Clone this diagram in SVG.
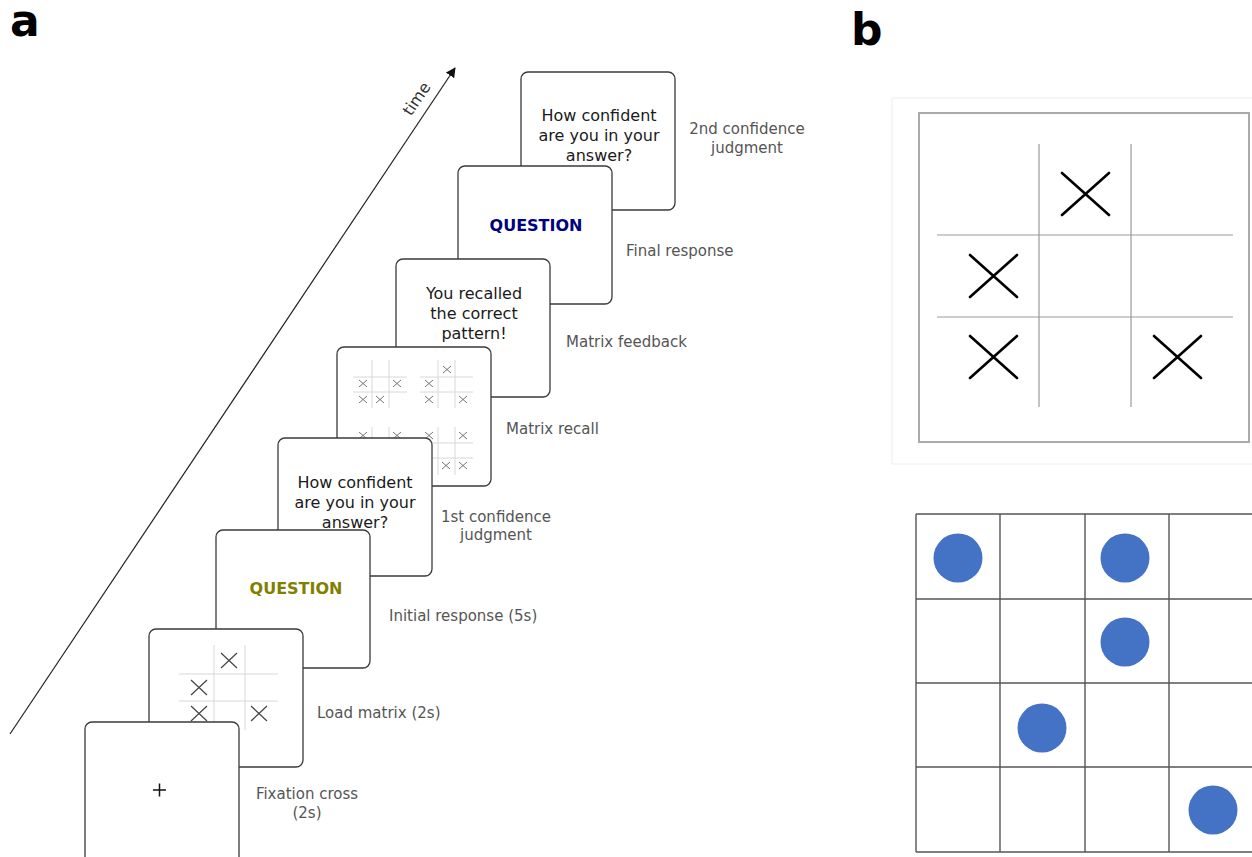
<svg xmlns="http://www.w3.org/2000/svg" width="1252" height="857" viewBox="0 0 1252 857">
<defs>
<style>
.card{fill:#fff;stroke:#3a3a3a;stroke-width:1.3}
.ct{font-family:"DejaVu Sans",Verdana,sans-serif;font-size:16px;fill:#1a1a1a;text-anchor:middle}
.q{font-family:"DejaVu Sans",Verdana,sans-serif;font-size:16px;font-weight:bold;text-anchor:middle}
.lb{font-family:"DejaVu Sans",Verdana,sans-serif;font-size:15px;fill:#555}
.lbc{font-family:"DejaVu Sans",Verdana,sans-serif;font-size:15px;fill:#555;text-anchor:middle}
.pl{font-family:"DejaVu Sans",Arial,sans-serif;font-weight:bold;font-size:44px;fill:#000}
.g{stroke:#d8d8d8;stroke-width:1;fill:none}
.mx{stroke:#444;stroke-width:1.2;fill:none}
.sx{stroke:#666;stroke-width:0.9;fill:none}
.bx{stroke:#000;stroke-width:2.6;fill:none;stroke-linecap:round}
.bg{stroke:#999;stroke-width:1.2;fill:none}
.bg2{stroke:#555;stroke-width:1.4;fill:none}
.dot{fill:#4472C4}
</style>
<marker id="ah" viewBox="0 0 10 10" refX="9" refY="5" markerWidth="10" markerHeight="10" markerUnits="userSpaceOnUse" orient="auto">
<path d="M0,0 L10,5 L0,10 z" fill="#111"/>
</marker>
</defs>
<rect width="1252" height="857" fill="#fff"/>

<text class="pl" x="10" y="36">a</text>
<text class="pl" x="851" y="45">b</text>

<g id="connectors">
<line x1="10" y1="734" x2="455" y2="68" stroke="#222" stroke-width="1.2" marker-end="url(#ah)"/>
<text x="417" y="104" transform="rotate(-56 417 99)" font-family="DejaVu Sans, sans-serif" font-size="16" fill="#333" text-anchor="middle">time</text>
</g>

<g id="card-2nd-confidence">
<rect class="card" x="521" y="72" width="154" height="138" rx="7"/>
<text class="ct" x="599" y="121">How confident</text>
<text class="ct" x="599" y="141">are you in your</text>
<text class="ct" x="599" y="161">answer?</text>
<text class="lbc" x="747" y="134">2nd confidence</text>
<text class="lbc" x="747" y="153">judgment</text>
</g>

<g id="card-final-response">
<rect class="card" x="458" y="166" width="154" height="138" rx="7"/>
<text class="q" x="536" y="231" fill="#000080">QUESTION</text>
<text class="lb" x="626" y="256">Final response</text>
</g>

<g id="card-matrix-feedback">
<rect class="card" x="396" y="259" width="154" height="138" rx="7"/>
<text class="ct" x="474" y="299">You recalled</text>
<text class="ct" x="474" y="319">the correct</text>
<text class="ct" x="474" y="339">pattern!</text>
<text class="lb" x="566" y="347">Matrix feedback</text>
</g>

<g id="card-matrix-recall">
<rect class="card" x="337" y="347" width="154" height="139" rx="7"/>
<g class="g">
<line x1="372" y1="360" x2="372" y2="408"/><line x1="389" y1="360" x2="389" y2="408"/>
<line x1="353" y1="377" x2="407" y2="377"/><line x1="353" y1="392" x2="407" y2="392"/>
<line x1="438" y1="360" x2="438" y2="408"/><line x1="455" y1="360" x2="455" y2="408"/>
<line x1="420" y1="377" x2="473" y2="377"/><line x1="420" y1="392" x2="473" y2="392"/>
<line x1="372" y1="427" x2="372" y2="475"/><line x1="389" y1="427" x2="389" y2="475"/>
<line x1="353" y1="443" x2="407" y2="443"/><line x1="353" y1="458" x2="407" y2="458"/>
<line x1="438" y1="427" x2="438" y2="475"/><line x1="455" y1="427" x2="455" y2="475"/>
<line x1="420" y1="443" x2="473" y2="443"/><line x1="420" y1="458" x2="473" y2="458"/>
</g>
<path class="sx" d="M359,380 l8,7 m0,-7 l-8,7 M393,380 l8,7 m0,-7 l-8,7 M359,396 l8,7 m0,-7 l-8,7 M376,396 l8,7 m0,-7 l-8,7"/>
<path class="sx" d="M443,366 l8,7 m0,-7 l-8,7 M425,380 l8,7 m0,-7 l-8,7 M425,396 l8,7 m0,-7 l-8,7 M459,396 l8,7 m0,-7 l-8,7"/>
<path class="sx" d="M359,432 l8,7 m0,-7 l-8,7 M393,432 l8,7 m0,-7 l-8,7"/>
<path class="sx" d="M425,432 l8,7 m0,-7 l-8,7 M459,432 l8,7 m0,-7 l-8,7 M442,462 l8,7 m0,-7 l-8,7 M459,462 l8,7 m0,-7 l-8,7"/>
<text class="lb" x="506" y="434">Matrix recall</text>
</g>

<g id="card-1st-confidence">
<rect class="card" x="278" y="438" width="154" height="138" rx="7"/>
<text class="ct" x="355" y="488">How confident</text>
<text class="ct" x="355" y="508">are you in your</text>
<text class="ct" x="355" y="528">answer?</text>
<text class="lbc" x="496" y="522">1st confidence</text>
<text class="lbc" x="496" y="540">judgment</text>
</g>

<g id="card-initial-response">
<rect class="card" x="216" y="530" width="154" height="138" rx="7"/>
<text class="q" x="296" y="594" fill="#808000">QUESTION</text>
<text class="lb" x="389" y="621">Initial response (5s)</text>
</g>

<g id="card-load-matrix">
<rect class="card" x="149" y="629" width="154" height="138" rx="7"/>
<g class="g">
<line x1="214" y1="645" x2="214" y2="730"/><line x1="245" y1="645" x2="245" y2="730"/>
<line x1="179" y1="674" x2="278" y2="674"/><line x1="179" y1="701" x2="278" y2="701"/>
</g>
<path class="mx" d="M221,653 l16,15 m0,-15 l-16,15 M191,680 l16,15 m0,-15 l-16,15 M191,706 l16,15 m0,-15 l-16,15 M251,706 l16,15 m0,-15 l-16,15"/>
<text class="lb" x="317" y="718">Load matrix (2s)</text>
</g>

<g id="card-fixation">
<rect class="card" x="85" y="722" width="154" height="145" rx="7"/>
<path d="M153,790 h13 M159.5,783.5 v13" stroke="#111" stroke-width="1.5"/>
<text class="lbc" x="307" y="799">Fixation cross</text>
<text class="lbc" x="307" y="818">(2s)</text>
</g>

<g id="panel-b-matrix">
<rect x="892" y="98" width="365" height="366" fill="#fff" stroke="#eeeeee" stroke-width="1"/>
<rect x="919" y="113" width="330" height="329" fill="#fff" stroke="#aaa" stroke-width="2"/>
<g class="bg">
<line x1="1039" y1="144" x2="1039" y2="407"/><line x1="1131" y1="144" x2="1131" y2="407"/>
<line x1="937" y1="235" x2="1233" y2="235"/><line x1="937" y1="317" x2="1233" y2="317"/>
</g>
<path class="bx" d="M1062,173 l47,42 m0,-42 l-47,42 M970,255 l47,42 m0,-42 l-47,42 M970,336 l47,42 m0,-42 l-47,42 M1154,336 l47,42 m0,-42 l-47,42"/>
</g>

<g id="panel-b-dots">
<g class="bg2">
<line x1="916" y1="514" x2="1260" y2="514"/>
<line x1="916" y1="599" x2="1260" y2="599"/>
<line x1="916" y1="683" x2="1260" y2="683"/>
<line x1="916" y1="767" x2="1260" y2="767"/>
<line x1="916" y1="852" x2="1260" y2="852"/>
<line x1="916" y1="514" x2="916" y2="852"/>
<line x1="1000" y1="514" x2="1000" y2="852"/>
<line x1="1085" y1="514" x2="1085" y2="852"/>
<line x1="1169" y1="514" x2="1169" y2="852"/>
</g>
<circle class="dot" cx="958" cy="558" r="24.5"/>
<circle class="dot" cx="1125" cy="558" r="24.5"/>
<circle class="dot" cx="1125" cy="642" r="24.5"/>
<circle class="dot" cx="1042" cy="728" r="24.5"/>
<circle class="dot" cx="1213" cy="810" r="24.5"/>
</g>
</svg>
